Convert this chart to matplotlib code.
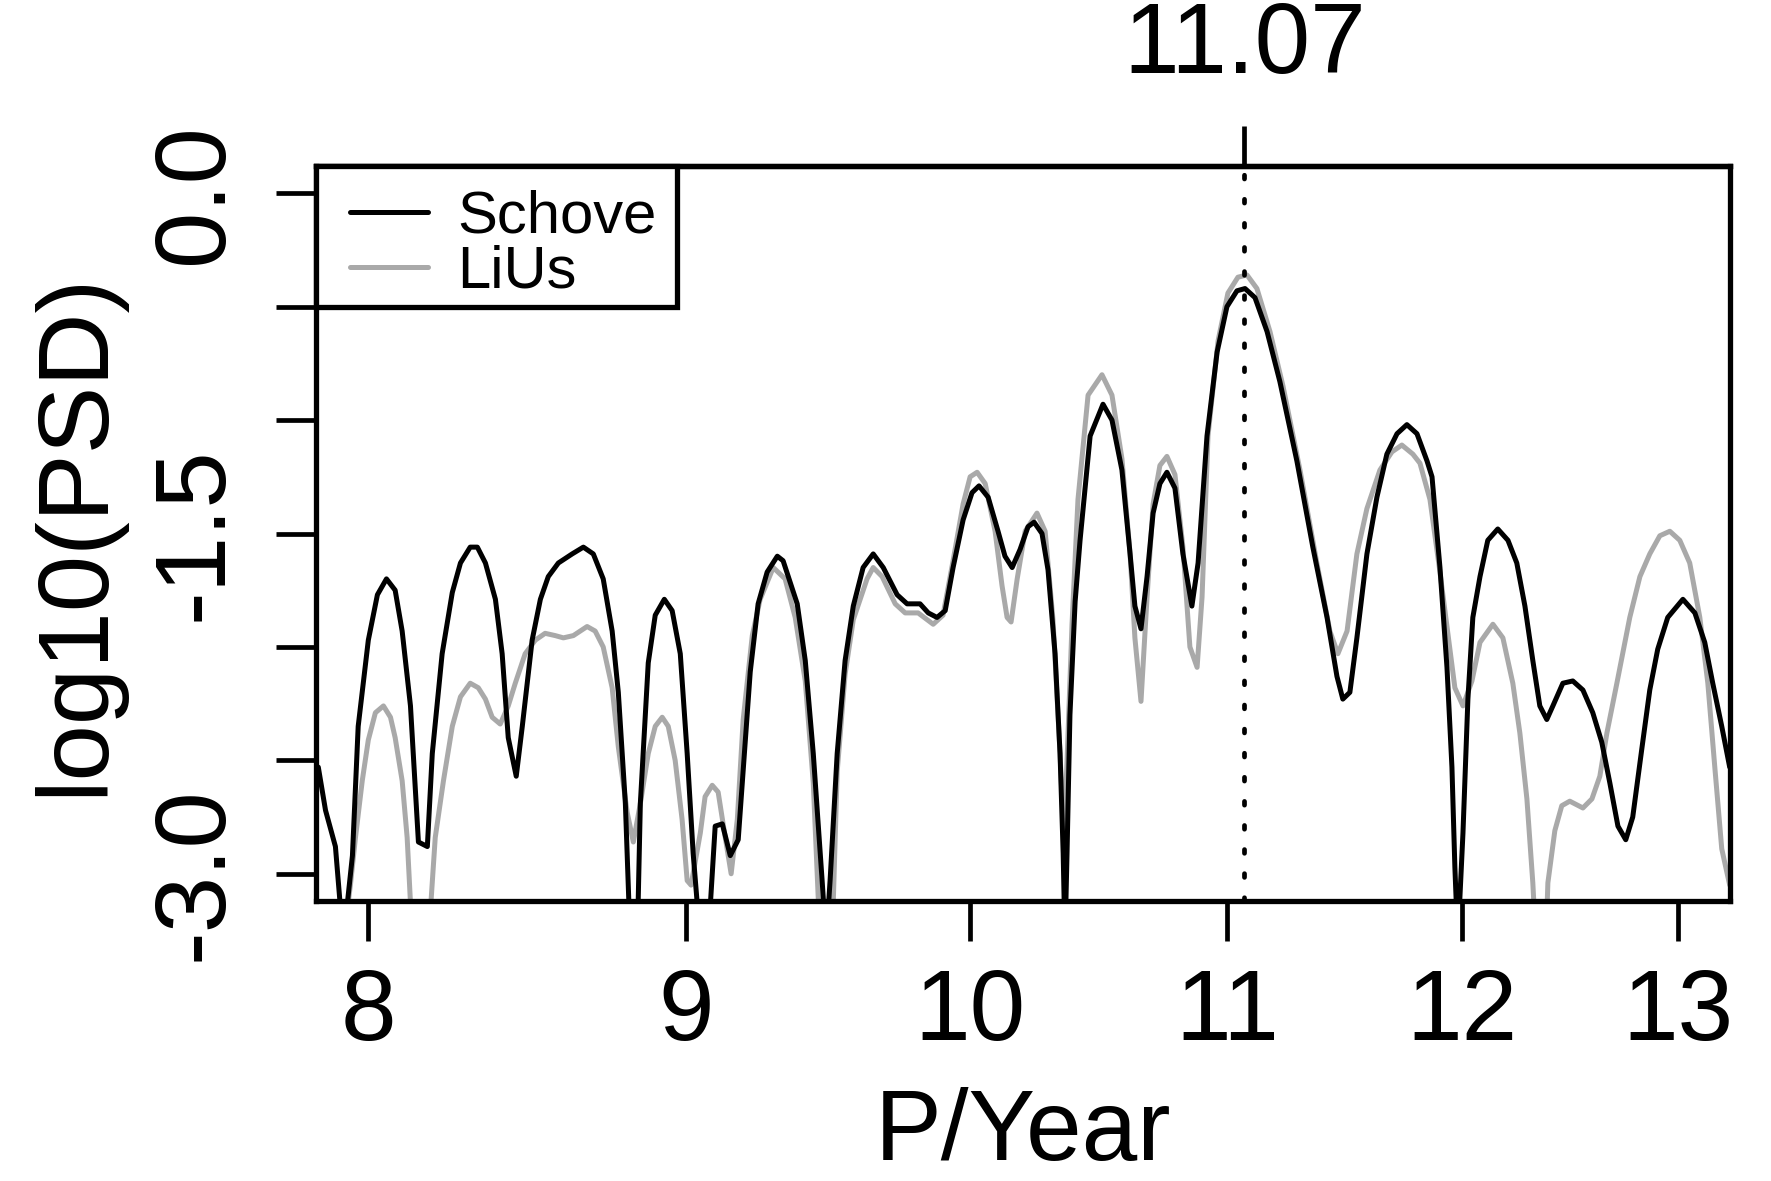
import matplotlib
matplotlib.use("Agg")
import matplotlib.pyplot as plt
from matplotlib.ticker import NullLocator
from matplotlib.patches import Rectangle
import numpy as np

# period axis (years) and log10 power
schove_period = [7.853, 7.874, 7.903, 7.926, 7.953, 7.970, 8.000, 8.027, 8.054, 8.080,
                 8.101, 8.126, 8.150, 8.177, 8.192, 8.222, 8.253, 8.278, 8.308, 8.330,
                 8.355, 8.386, 8.407, 8.426, 8.451, 8.470, 8.501, 8.527, 8.552, 8.584,
                 8.628, 8.664, 8.696, 8.728, 8.757, 8.777, 8.800, 8.816, 8.839, 8.849,
                 8.875, 8.898, 8.928, 8.954, 8.981, 9.004, 9.024, 9.048, 9.074, 9.098,
                 9.122, 9.149, 9.176, 9.193, 9.217, 9.244, 9.275, 9.310, 9.330, 9.379,
                 9.407, 9.435, 9.466, 9.480, 9.494, 9.519, 9.547, 9.576, 9.611, 9.647,
                 9.683, 9.733, 9.769, 9.816, 9.846, 9.878, 9.908, 9.937, 9.974, 10.007,
                 10.033, 10.067, 10.104, 10.130, 10.157, 10.187, 10.217, 10.240, 10.270, 10.293,
                 10.320, 10.339, 10.351, 10.358, 10.366, 10.377, 10.397, 10.416, 10.455, 10.505,
                 10.540, 10.579, 10.611, 10.630, 10.654, 10.678, 10.702, 10.729, 10.757, 10.789,
                 10.821, 10.857, 10.882, 10.918, 10.959, 10.999, 11.040, 11.073, 11.114, 11.164,
                 11.217, 11.288, 11.355, 11.415, 11.457, 11.482, 11.512, 11.542, 11.585, 11.628,
                 11.671, 11.715, 11.758, 11.802, 11.846, 11.868, 11.903, 11.934, 11.956, 11.969,
                 11.982, 12.005, 12.027, 12.049, 12.081, 12.116, 12.161, 12.207, 12.247, 12.284,
                 12.320, 12.352, 12.384, 12.412, 12.458, 12.504, 12.551, 12.597, 12.639, 12.677,
                 12.715, 12.752, 12.785, 12.828, 12.866, 12.904, 12.952, 13.025, 13.083, 13.131,
                 13.170, 13.214, 13.253]
schove_psd = [-2.53, -2.72, -2.88, -3.30, -2.92, -2.35, -1.97, -1.77, -1.70, -1.75,
              -1.93, -2.26, -2.86, -2.88, -2.47, -2.03, -1.76, -1.63, -1.56, -1.56,
              -1.63, -1.79, -2.03, -2.40, -2.57, -2.35, -1.97, -1.79, -1.69, -1.63,
              -1.59, -1.56, -1.59, -1.70, -1.93, -2.20, -2.69, -3.30, -3.30, -2.69,
              -2.07, -1.86, -1.79, -1.84, -2.03, -2.47, -2.91, -3.30, -3.30, -2.79,
              -2.78, -2.92, -2.85, -2.54, -2.11, -1.81, -1.67, -1.60, -1.62, -1.81,
              -2.06, -2.47, -3.03, -3.30, -3.03, -2.47, -2.06, -1.82, -1.65, -1.59,
              -1.65, -1.77, -1.81, -1.81, -1.85, -1.87, -1.84, -1.65, -1.44, -1.32,
              -1.29, -1.34, -1.49, -1.60, -1.65, -1.57, -1.47, -1.45, -1.50, -1.66,
              -2.03, -2.47, -2.91, -3.30, -2.90, -2.30, -1.80, -1.53, -1.07, -0.93,
              -1.00, -1.22, -1.59, -1.82, -1.92, -1.69, -1.41, -1.28, -1.23, -1.30,
              -1.59, -1.82, -1.63, -1.07, -0.70, -0.50, -0.43, -0.42, -0.46, -0.61,
              -0.83, -1.18, -1.56, -1.87, -2.13, -2.23, -2.20, -1.96, -1.59, -1.34,
              -1.15, -1.06, -1.02, -1.06, -1.18, -1.25, -1.65, -2.09, -2.53, -2.97,
              -3.30, -2.82, -2.23, -1.87, -1.69, -1.53, -1.48, -1.53, -1.63, -1.82,
              -2.06, -2.26, -2.32, -2.26, -2.16, -2.15, -2.19, -2.29, -2.42, -2.60,
              -2.79, -2.85, -2.75, -2.45, -2.19, -2.01, -1.87, -1.79, -1.85, -1.98,
              -2.16, -2.35, -2.53]

lius_period = [7.853, 7.926, 7.947, 7.962, 7.982, 8.000, 8.021, 8.045, 8.066, 8.080,
               8.101, 8.116, 8.132, 8.180, 8.201, 8.226, 8.253, 8.278, 8.308, 8.333,
               8.355, 8.376, 8.401, 8.426, 8.448, 8.479, 8.511, 8.542, 8.574, 8.600,
               8.632, 8.676, 8.702, 8.728, 8.757, 8.777, 8.806, 8.826, 8.849, 8.875,
               8.898, 8.921, 8.941, 8.964, 8.987, 9.004, 9.017, 9.048, 9.064, 9.088,
               9.108, 9.132, 9.152, 9.173, 9.193, 9.224, 9.251, 9.296, 9.337, 9.372,
               9.407, 9.435, 9.459, 9.501, 9.519, 9.547, 9.576, 9.625, 9.647, 9.679,
               9.726, 9.762, 9.809, 9.864, 9.900, 9.937, 9.974, 10.000, 10.026, 10.056,
               10.093, 10.119, 10.138, 10.153, 10.176, 10.206, 10.251, 10.282, 10.312, 10.339,
               10.354, 10.366, 10.385, 10.408, 10.447, 10.501, 10.540, 10.579, 10.611, 10.630,
               10.654, 10.678, 10.702, 10.729, 10.757, 10.789, 10.821, 10.849, 10.878, 10.898,
               10.922, 10.963, 11.003, 11.044, 11.081, 11.122, 11.176, 11.230, 11.301, 11.372,
               11.427, 11.461, 11.500, 11.542, 11.585, 11.641, 11.693, 11.736, 11.784, 11.815,
               11.859, 11.903, 11.938, 11.969, 12.005, 12.045, 12.081, 12.139, 12.184, 12.229,
               12.261, 12.293, 12.320, 12.334, 12.380, 12.389, 12.421, 12.453, 12.490, 12.551,
               12.593, 12.630, 12.663, 12.710, 12.771, 12.819, 12.866, 12.914, 12.962, 13.010,
               13.058, 13.107, 13.146, 13.180, 13.214, 13.253]
lius_psd = [-3.30, -3.30, -3.05, -2.84, -2.59, -2.41, -2.29, -2.26, -2.31, -2.40,
            -2.59, -2.84, -3.30, -3.30, -2.84, -2.59, -2.35, -2.22, -2.16, -2.18,
            -2.23, -2.31, -2.34, -2.26, -2.16, -2.03, -1.97, -1.94, -1.95, -1.96,
            -1.95, -1.91, -1.93, -2.00, -2.18, -2.44, -2.73, -2.86, -2.69, -2.47,
            -2.35, -2.31, -2.35, -2.50, -2.76, -3.03, -3.05, -2.82, -2.66, -2.61,
            -2.64, -2.84, -3.00, -2.76, -2.32, -1.95, -1.79, -1.65, -1.70, -1.87,
            -2.15, -2.60, -3.30, -3.30, -2.55, -2.12, -1.88, -1.70, -1.65, -1.69,
            -1.81, -1.85, -1.85, -1.90, -1.86, -1.62, -1.37, -1.25, -1.23, -1.28,
            -1.49, -1.73, -1.87, -1.89, -1.70, -1.49, -1.41, -1.49, -1.88, -2.47,
            -2.85, -2.50, -1.90, -1.35, -0.89, -0.80, -0.89, -1.17, -1.59, -1.96,
            -2.24, -1.78, -1.37, -1.20, -1.16, -1.24, -1.56, -2.00, -2.09, -1.78,
            -1.07, -0.65, -0.44, -0.37, -0.36, -0.42, -0.61, -0.85, -1.22, -1.63,
            -1.93, -2.03, -1.93, -1.59, -1.39, -1.22, -1.14, -1.11, -1.15, -1.19,
            -1.35, -1.67, -1.94, -2.18, -2.26, -2.15, -1.98, -1.90, -1.96, -2.16,
            -2.38, -2.67, -3.04, -3.30, -3.30, -3.04, -2.81, -2.70, -2.68, -2.71,
            -2.67, -2.57, -2.38, -2.16, -1.87, -1.69, -1.59, -1.51, -1.49, -1.53,
            -1.63, -1.87, -2.16, -2.53, -2.89, -3.05]

peak_period = 11.07
x_ticks = [8, 9, 10, 11, 12, 13]
y_ticks = [0.0, -0.5, -1.0, -1.5, -2.0, -2.5, -3.0]
y_tick_labels = ['0.0', '', '', '-1.5', '', '', '-3.0']

plt.rcParams['font.family'] = ['Liberation Sans', 'DejaVu Sans']

fig = plt.figure(figsize=(17.71, 11.81), dpi=100)
fig.set_facecolor('white')
ax = fig.add_axes([0.1784, 0.2371, 0.7985, 0.6223])

ax.plot(lius_period, lius_psd, color='#a9a9a9', lw=3.6,
        solid_joinstyle='round', solid_capstyle='round', label='LiUs', zorder=2)
ax.plot(schove_period, schove_psd, color='black', lw=3.6,
        solid_joinstyle='round', solid_capstyle='round', label='Schove', zorder=3)
ax.axvline(peak_period, color='black', lw=3.4, linestyle=(0, (0.8, 4.3)),
           dash_capstyle='round', zorder=4)

# R style range: 4% padding in log space for x
ext = 0.04 * np.log10(13 / 8)
ax.set_xscale('log')
ax.set_xlim(8 / 10 ** ext, 13 * 10 ** ext)
ax.set_ylim(-3.12, 0.12)

ax.set_xticks(x_ticks, labels=[str(v) for v in x_ticks])
ax.xaxis.set_minor_locator(NullLocator())
ax.set_yticks(y_ticks, labels=y_tick_labels)

for s in ax.spines.values():
    s.set_linewidth(3.8)
ax.tick_params(axis='both', length=28.8, width=3.4)
ax.tick_params(axis='x', pad=18.5, labelsize=72)
ax.tick_params(axis='y', pad=23.8, labelrotation=90, labelsize=73)
for t in ax.get_yticklabels():
    t.set_va('center')

# top axis: only the peak period
sec = ax.secondary_xaxis('top')
sec.set_xticks([peak_period], labels=['11.07'])
sec.xaxis.set_minor_locator(NullLocator())
sec.tick_params(length=28.8, width=3.4, labelsize=72, pad=23)
sec.spines['top'].set_linewidth(3.8)

ax.set_xlabel('P/Year', fontsize=72)
ax.xaxis.set_label_coords(0.5, -0.2535)
ax.set_ylabel('log10(PSD)', fontsize=73)
ax.yaxis.set_label_coords(-0.1365, 0.5)

# legend box in the top-left corner, R style
ax.add_patch(Rectangle((0, 1 - 0.1918), 0.2553, 0.1918, transform=ax.transAxes,
                       facecolor='white', edgecolor='black', lw=3.8,
                       clip_on=False, zorder=5))
handles, labels = ax.get_legend_handles_labels()
leg = ax.legend(handles[::-1], labels[::-1], loc='upper left',
                bbox_to_anchor=(0.024, 0.968), borderaxespad=0, borderpad=0,
                frameon=False, fontsize=43, handlelength=1.3, handletextpad=0.5,
                labelspacing=0.0)
leg.set_zorder(6)
for line in leg.get_lines():
    line.set_linewidth(3.6)

fig.savefig('out.png', dpi=100, facecolor='white')
